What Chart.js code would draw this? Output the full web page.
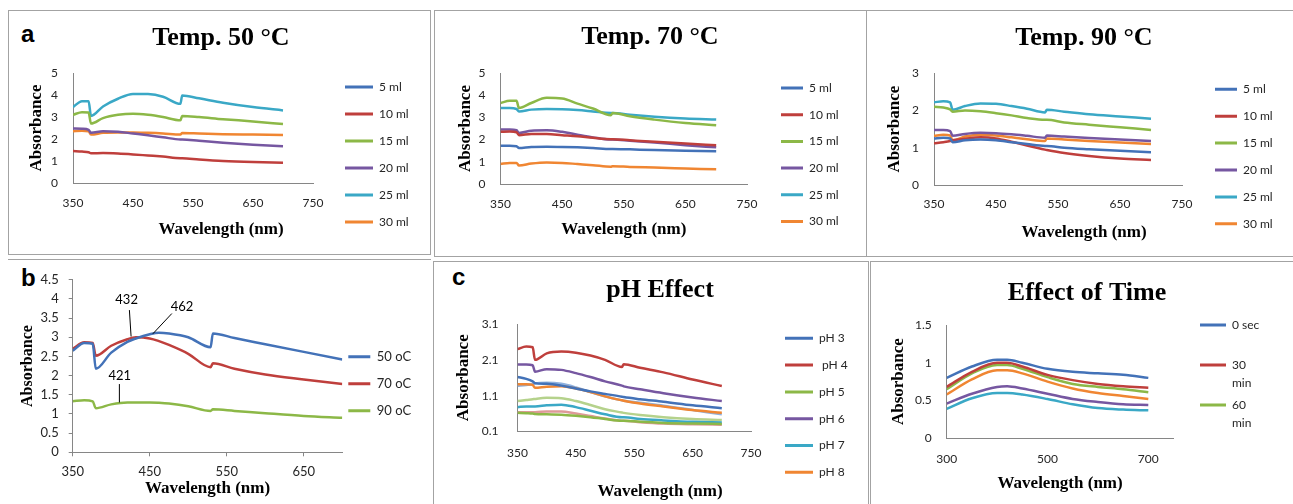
<!DOCTYPE html>
<html lang="en">
<head>
<meta charset="utf-8">
<title>Absorbance spectra</title>
<script src="https://cdn.jsdelivr.net/npm/chart.js"></script>
<style>
  html, body { margin: 0; padding: 0; background: #fff; overflow: hidden; }
  #fig { position: relative; width: 1293px; height: 504px; overflow: hidden; }
  .moldura { position: absolute; border: 1.5px solid #a3a3a3; box-sizing: border-box; }
  .letra { position: absolute; font: bold 24px 'Liberation Sans', Arial, sans-serif; line-height: 24px; color: #000; }
  canvas { position: absolute; }
</style>
</head>
<body>
<div id="fig">
  <div class="moldura" style="left:8px;top:10px;width:423px;height:245px"></div>
  <div class="moldura" style="left:434px;top:10px;width:433px;height:247px"></div>
  <div class="moldura" style="left:866px;top:10px;width:440px;height:247px"></div>
  <div class="moldura" style="left:8px;top:259px;width:423px;height:260px;border-left:none;border-right:none;border-bottom:none"></div>
  <div class="moldura" style="left:433px;top:261px;width:436px;height:260px"></div>
  <div class="moldura" style="left:870px;top:261px;width:440px;height:260px"></div>

  <div class="letra" style="left:21px;top:22px">a</div>
  <div class="letra" style="left:21px;top:266px">b</div>
  <div class="letra" style="left:452px;top:265px">c</div>

  <canvas id="g50"></canvas>
  <canvas id="g70"></canvas>
  <canvas id="g90"></canvas>
  <canvas id="gTemp"></canvas>
  <canvas id="gPH"></canvas>
  <canvas id="gTempo"></canvas>
</div>

<script>
// ===== DADOS =====

// grade de comprimentos de onda (nm) dos espectros de temperatura e pH
const ondas = [350, 365, 376, 380, 400, 425, 450, 475, 500, 529, 532, 560, 600, 650, 700];
const nomesMl = ['5 ml', '10 ml', '15 ml', '20 ml', '25 ml', '30 ml'];

// a) Temp. 50 °C  (a curva de 5 ml não aparece no original)
const t50_5ml  = [];
const t50_10ml = [1.45, 1.43, 1.40, 1.35, 1.36, 1.34, 1.30, 1.25, 1.20, 1.13, 1.13, 1.07, 1.00, 0.95, 0.92];
const t50_15ml = [3.10, 3.22, 3.20, 2.70, 2.95, 3.10, 3.15, 3.10, 3.00, 2.85, 3.05, 3.00, 2.90, 2.80, 2.68];
const t50_20ml = [2.48, 2.47, 2.42, 2.28, 2.35, 2.33, 2.25, 2.17, 2.08, 1.98, 1.98, 1.92, 1.83, 1.74, 1.67];
const t50_25ml = [3.45, 3.72, 3.72, 3.05, 3.48, 3.83, 4.05, 4.04, 3.92, 3.60, 3.98, 3.85, 3.65, 3.45, 3.30];
const t50_30ml = [2.35, 2.37, 2.35, 2.20, 2.28, 2.30, 2.30, 2.28, 2.25, 2.20, 2.27, 2.25, 2.22, 2.20, 2.18];

// Temp. 70 °C
const t70_5ml  = [1.72, 1.72, 1.70, 1.62, 1.67, 1.68, 1.67, 1.65, 1.62, 1.58, 1.58, 1.56, 1.53, 1.50, 1.47];
const t70_10ml = [2.35, 2.36, 2.33, 2.20, 2.25, 2.25, 2.20, 2.15, 2.08, 2.02, 2.02, 1.97, 1.90, 1.82, 1.75];
const t70_15ml = [3.65, 3.75, 3.75, 3.42, 3.65, 3.88, 3.85, 3.62, 3.40, 3.10, 3.20, 3.05, 2.90, 2.75, 2.65];
const t70_20ml = [2.45, 2.45, 2.42, 2.30, 2.40, 2.42, 2.35, 2.22, 2.10, 2.00, 2.00, 1.95, 1.87, 1.75, 1.65];
const t70_25ml = [3.42, 3.42, 3.38, 3.27, 3.35, 3.38, 3.37, 3.33, 3.27, 3.20, 3.20, 3.12, 3.03, 2.95, 2.90];
const t70_30ml = [0.90, 0.95, 0.95, 0.83, 0.92, 0.97, 0.95, 0.90, 0.85, 0.78, 0.80, 0.77, 0.74, 0.70, 0.66];

// Temp. 90 °C
const t90_5ml  = [1.25, 1.27, 1.25, 1.15, 1.20, 1.22, 1.20, 1.15, 1.10, 1.05, 1.05, 1.00, 0.96, 0.92, 0.88];
const t90_10ml = [1.12, 1.15, 1.18, 1.20, 1.24, 1.28, 1.25, 1.16, 1.06, 0.95, 0.94, 0.86, 0.78, 0.71, 0.67];
const t90_15ml = [2.10, 2.08, 2.03, 1.97, 2.00, 1.98, 1.93, 1.87, 1.80, 1.75, 1.75, 1.68, 1.62, 1.55, 1.48];
const t90_20ml = [1.48, 1.48, 1.45, 1.32, 1.37, 1.40, 1.39, 1.36, 1.32, 1.27, 1.33, 1.30, 1.26, 1.22, 1.18];
const t90_25ml = [2.22, 2.25, 2.22, 2.02, 2.12, 2.19, 2.18, 2.12, 2.05, 1.95, 2.02, 1.97, 1.90, 1.84, 1.78];
const t90_30ml = [1.32, 1.35, 1.33, 1.20, 1.30, 1.35, 1.33, 1.28, 1.23, 1.18, 1.25, 1.22, 1.18, 1.14, 1.10];

// b) comparação de temperaturas
const ondasB = [350, 365, 376, 380, 400, 421, 432, 450, 462, 475, 500, 529, 532, 560, 600, 650, 700];
const nomesB = ['50 oC', '70 oC', '90 oC'];
const b50 = [2.65, 2.85, 2.83, 2.18, 2.60, 2.88, 2.97, 3.08, 3.12, 3.10, 3.00, 2.74, 3.10, 2.98, 2.82, 2.62, 2.42];
const b70 = [2.70, 2.87, 2.85, 2.52, 2.78, 2.95, 3.00, 2.97, 2.90, 2.80, 2.57, 2.22, 2.32, 2.18, 2.03, 1.90, 1.78];
const b90 = [1.33, 1.36, 1.33, 1.15, 1.25, 1.30, 1.30, 1.30, 1.29, 1.27, 1.20, 1.08, 1.12, 1.08, 1.02, 0.95, 0.90];
// picos marcados: texto, posição do texto e traço (x em nm, y em absorbância)
const picoTexto = ['432', '462', '421'];
const picoTextoX = [420, 492, 411];
const picoTextoY = [3.97, 3.80, 1.99];
const picoDe  = [[423.6, 3.71], [478.7, 3.62], [410.6, 1.78]];
const picoAte = [[425.8, 3.02], [454.0, 3.09], [410.6, 1.30]];

// c) pH Effect (as três últimas séries ficam fora da legenda, como no original)
const nomesPH = ['pH 3', ' pH 4', 'pH 5', 'pH 6', 'pH 7', 'pH 8', 'série 7', 'série 8', 'série 9'];
const ph3 = [1.62, 1.57, 1.50, 1.45, 1.43, 1.38, 1.30, 1.22, 1.15, 1.07, 1.06, 1.00, 0.93, 0.83, 0.75];
const ph4 = [2.40, 2.47, 2.45, 2.10, 2.28, 2.33, 2.30, 2.22, 2.10, 1.90, 1.98, 1.88, 1.75, 1.55, 1.37];
const ph5 = [0.62, 0.61, 0.60, 0.59, 0.58, 0.57, 0.54, 0.50, 0.45, 0.40, 0.40, 0.37, 0.34, 0.32, 0.31];
const ph6 = [1.97, 1.97, 1.95, 1.77, 1.84, 1.82, 1.73, 1.62, 1.50, 1.38, 1.36, 1.28, 1.17, 1.05, 0.95];
const ph7 = [0.78, 0.80, 0.80, 0.80, 0.83, 0.85, 0.78, 0.68, 0.58, 0.50, 0.50, 0.45, 0.41, 0.37, 0.35];
const ph8 = [1.42, 1.42, 1.40, 1.32, 1.35, 1.36, 1.30, 1.20, 1.08, 0.97, 0.96, 0.88, 0.80, 0.70, 0.62];
const phS7 = [1.38, 1.40, 1.42, 1.44, 1.46, 1.43, 1.33, 1.20, 1.08, 0.97, 0.96, 0.90, 0.82, 0.70, 0.58];
const phS8 = [0.64, 0.64, 0.64, 0.64, 0.66, 0.66, 0.60, 0.53, 0.46, 0.40, 0.40, 0.36, 0.32, 0.30, 0.29];
const phS9 = [0.95, 0.98, 1.00, 1.01, 1.04, 1.03, 0.95, 0.84, 0.72, 0.63, 0.62, 0.56, 0.50, 0.45, 0.42];

// Effect of Time (só as três primeiras séries cabem na legenda)
const ondasT = [300, 350, 400, 420, 450, 500, 550, 600, 650, 700];
const nomesT = ['0 sec', '30 min', '60 min', 'série 4', 'série 5', 'série 6'];
const tempo0s  = [0.80, 0.95, 1.04, 1.04, 1.00, 0.92, 0.88, 0.86, 0.84, 0.80];
const tempo30m = [0.68, 0.88, 1.00, 1.00, 0.95, 0.84, 0.77, 0.72, 0.69, 0.67];
const tempo60m = [0.65, 0.86, 0.97, 0.97, 0.92, 0.81, 0.72, 0.68, 0.65, 0.61];
const tempoS4  = [0.46, 0.59, 0.68, 0.69, 0.66, 0.59, 0.52, 0.48, 0.45, 0.44];
const tempoS5  = [0.39, 0.53, 0.60, 0.60, 0.58, 0.52, 0.45, 0.40, 0.38, 0.37];
const tempoS6  = [0.58, 0.78, 0.90, 0.90, 0.86, 0.75, 0.66, 0.60, 0.56, 0.52];

// ticks dos eixos
const ticksX350 = [350, 450, 550, 650, 750];
const ticksXb   = [350, 450, 550, 650];
const ticksXt   = [300, 500, 700];
const ticksY5   = [0, 1, 2, 3, 4, 5];
const ticksY3   = [0, 1, 2, 3];
const ticksYb   = [0, 0.5, 1, 1.5, 2, 2.5, 3, 3.5, 4, 4.5];
const ticksYph  = [0.1, 1.1, 2.1, 3.1];
const ticksYt   = [0, 0.5, 1, 1.5];

// cores padrão do Excel
const cores = ['#4372B8', '#BF3F3C', '#8CB847', '#7657A1', '#3AA8C6', '#F08632', '#8FB1DE', '#DE9A98', '#B5D28C'];


/* =============================================
   MONTAGEM DOS GRÁFICOS
   ============================================= */
const serif = "'Liberation Serif', 'Times New Roman', serif";
const sans  = "Lato, 'Open Sans', sans-serif";
const cinza = '#868686';
Chart.defaults.font.family = sans;
Chart.defaults.color = '#262626';

// mede o texto da legenda para fixar a largura da caixa
const medidor = document.createElement('canvas').getContext('2d');

// rótulos dos picos no gráfico b
const picos = {
  id: 'picos',
  afterDatasetsDraw(chart) {
    const { ctx, scales: { x, y } } = chart;
    ctx.save();
    ctx.strokeStyle = '#000';
    ctx.fillStyle = '#000';
    ctx.lineWidth = 1;
    ctx.font = '13px ' + sans;
    ctx.textAlign = 'center';
    ctx.textBaseline = 'middle';
    picoTexto.forEach((txt, i) => {
      ctx.fillText(txt, x.getPixelForValue(picoTextoX[i]), y.getPixelForValue(picoTextoY[i]));
      ctx.beginPath();
      ctx.moveTo(x.getPixelForValue(picoDe[i][0]), y.getPixelForValue(picoDe[i][1]));
      ctx.lineTo(x.getPixelForValue(picoAte[i][0]), y.getPixelForValue(picoAte[i][1]));
      ctx.stroke();
    });
    ctx.restore();
  }
};

function montarGrafico(cfg) {
  const canvas = document.getElementById(cfg.id);
  const [bx, by, W, H] = cfg.caixa;
  canvas.width = W;
  canvas.height = H;
  canvas.style.left = bx + 'px';
  canvas.style.top = by + 'px';

  // área do gráfico relativa ao canvas
  const L = cfg.area[0] - bx, T = cfg.area[1] - by, R = cfg.area[2] - bx, B = cfg.area[3] - by;
  const fTick = cfg.fonteTick || 12, fLeg = cfg.fonteLeg || 12, fEixoY = cfg.fonteEixoY || 17, fEixoX = 17;
  const marca = cfg.marcas ? 4 : 0;
  const textos = cfg.leg.textos;

  // legenda: espaço até a área e largura justa para o texto
  const folga = cfg.leg.folga;
  const iniLeg = cfg.leg.x - bx - folga;
  const espaco = Math.max(0, iniLeg - R);
  medidor.font = fLeg + 'px ' + sans;
  const maiorTexto = Math.max(...textos.flat().map(t => medidor.measureText(t).width));
  const largLeg = folga + cfg.leg.caixa + fLeg / 2 + maiorTexto + 6;
  const fimLeg = iniLeg + largLeg;
  const padDir = W - fimLeg;

  // eixo Y: a borda esquerda da caixa do eixo define o centro do título
  const tituloEsq = cfg.posTituloY - bx - fEixoY * 0.6;
  const esqY = cfg.centro ? Math.max(0, 2 * (cfg.centro - bx) - fimLeg) : tituloEsq;
  const largY = L - esqY;

  const padTopo = cfg.titulo ? 0 : T;
  let titulo = { display: false };
  if (cfg.titulo) {
    const pt = cfg.posTitulo - by - 15.6;
    titulo = { display: true, text: cfg.titulo, color: '#000',
      font: { family: serif, size: 26, weight: 'bold' },
      padding: { top: pt, bottom: T - pt - 31.2 } };
  }

  // eixo X: título no próprio eixo ou como subtítulo embaixo
  const padTickX = cfg.posRotX - by - B - marca - fTick * 0.6;
  const fonteX = { family: serif, size: fEixoX, weight: 'bold' };
  let altX, tituloX = { display: false }, subtitulo = { display: false };
  if (cfg.modoX === 'eixo') {
    altX = H - B;
    tituloX = { display: true, text: 'Wavelength (nm)', color: '#000', font: fonteX,
      padding: { top: 0, bottom: H - (cfg.posTituloX - by) - fEixoX * 0.6 } };
  } else {
    altX = cfg.altX;
    const topoSub = B + altX;
    const pt = cfg.posTituloX - by - topoSub - fEixoX * 0.6;
    subtitulo = { display: true, position: 'bottom', text: 'Wavelength (nm)', color: '#000', font: fonteX,
      padding: { top: pt, bottom: H - topoSub - pt - fEixoX * 1.2 } };
  }

  const grade = cfg.marcas
    ? { display: true, drawOnChartArea: false, drawTicks: true, tickLength: 4, color: cinza }
    : { display: false, drawTicks: false };
  const borda = { display: true, color: cinza, width: 1 };

  // legenda começa na altura do primeiro item (título vazio serve de espaçador)
  const topoItem = cfg.leg.y - by - fLeg / 2;
  const altTitLeg = topoItem - padTopo - folga;

  const scales = {
    x: {
      type: 'linear', min: cfg.xMin, max: cfg.xMax,
      afterBuildTicks: s => { s.ticks = cfg.ticksX.map(v => ({ value: v })); },
      afterFit: s => { s.height = altX; },
      ticks: { padding: padTickX, autoSkip: false, maxRotation: 0, font: { size: fTick }, callback: v => String(v) },
      grid: grade, border: borda, title: tituloX
    },
    y: {
      type: 'linear', min: cfg.yMin, max: cfg.yMax,
      afterBuildTicks: s => { s.ticks = cfg.ticksY.map(v => ({ value: v })); },
      afterFit: s => { s.width = largY; },
      ticks: { padding: cfg.padTickY, autoSkip: false, font: { size: fTick }, callback: v => String(v) },
      grid: grade, border: borda,
      title: { display: true, text: 'Absorbance', color: '#000',
        font: { family: serif, size: fEixoY, weight: 'bold' }, padding: { top: tituloEsq - esqY, bottom: 0 } }
    }
  };
  if (espaco > 0) {
    scales.folga = {
      type: 'linear', position: 'right',
      grid: { display: false, drawTicks: false }, border: { display: false }, ticks: { display: false },
      afterFit: s => { s.width = espaco; }
    };
  }

  const datasets = cfg.series.map((ys, i) => ({
    label: cfg.nomes[i],
    data: ys.map((v, k) => ({ x: cfg.xs[k], y: v })),
    borderColor: cores[i],
    backgroundColor: cores[i],
    borderWidth: 2.5,
    pointRadius: 0,
    cubicInterpolationMode: 'monotone',
    xAxisID: 'x',
    yAxisID: 'y'
  }));

  new Chart(canvas, {
    type: 'line',
    data: { datasets },
    plugins: cfg.plugins || [],
    options: {
      responsive: false,
      animation: false,
      devicePixelRatio: 1,
      events: [],
      layout: { padding: { left: esqY, right: padDir, top: padTopo, bottom: 0 } },
      scales,
      plugins: {
        tooltip: { enabled: false },
        title: titulo,
        subtitle: subtitulo,
        legend: {
          position: 'right',
          align: 'start',
          maxWidth: largLeg,
          title: { display: true, text: '', font: { size: 10, lineHeight: '10px' },
            padding: { top: altTitLeg - 10, bottom: 0 } },
          labels: {
            boxWidth: cfg.leg.caixa,
            boxHeight: 3,
            padding: folga,
            color: '#262626',
            font: { size: fLeg, lineHeight: cfg.leg.entreLinhas + 'px' },
            generateLabels: chart => Chart.defaults.plugins.legend.labels.generateLabels(chart)
              .slice(0, textos.length)
              .map((it, i) => Object.assign(it, { text: textos[i], lineWidth: 0, fillStyle: it.strokeStyle }))
          }
        }
      }
    }
  });
}

const legMl = nomesMl.map(n => [n]);

// a) Temp. 50 °C
montarGrafico({
  id: 'g50', caixa: [8, 10, 423, 244], area: [73, 73, 313, 183],
  titulo: 'Temp. 50 °C', posTitulo: 38, centro: 221,
  posTituloY: 37, padTickY: 15, posRotX: 203, posTituloX: 230, modoX: 'sub', altX: 30,
  xs: ondas, xMin: 350, xMax: 750, ticksX: ticksX350, yMin: 0, yMax: 5, ticksY: ticksY5,
  series: [t50_5ml, t50_10ml, t50_15ml, t50_20ml, t50_25ml, t50_30ml], nomes: nomesMl,
  leg: { x: 345, y: 87, folga: 6, entreLinhas: 21, caixa: 28, textos: legMl }
});

// Temp. 70 °C
montarGrafico({
  id: 'g70', caixa: [434, 10, 432, 246], area: [500.5, 73, 747, 184],
  titulo: 'Temp. 70 °C', posTitulo: 37, centro: 650,
  posTituloY: 466, padTickY: 15, posRotX: 204, posTituloX: 230, modoX: 'eixo',
  xs: ondas, xMin: 350, xMax: 750, ticksX: ticksX350, yMin: 0, yMax: 5, ticksY: ticksY5,
  series: [t70_5ml, t70_10ml, t70_15ml, t70_20ml, t70_25ml, t70_30ml], nomes: nomesMl,
  leg: { x: 781, y: 88, folga: 6, entreLinhas: 20.7, caixa: 22, textos: legMl }
});

// Temp. 90 °C
montarGrafico({
  id: 'g90', caixa: [866, 10, 427, 246], area: [934, 73.3, 1182, 185],
  titulo: 'Temp. 90 °C', posTitulo: 38.3, centro: 1084,
  posTituloY: 895, padTickY: 15, posRotX: 204, posTituloX: 233, modoX: 'sub', altX: 30,
  xs: ondas, xMin: 350, xMax: 750, ticksX: ticksX350, yMin: 0, yMax: 3, ticksY: ticksY3,
  series: [t90_5ml, t90_10ml, t90_15ml, t90_20ml, t90_25ml, t90_30ml], nomes: nomesMl,
  leg: { x: 1215, y: 89.3, folga: 6, entreLinhas: 20.9, caixa: 22, textos: legMl }
});

// b) picos por temperatura
montarGrafico({
  id: 'gTemp', caixa: [0, 262, 430, 242], area: [72.7, 277.7, 342.5, 452.3],
  titulo: null, centro: null, marcas: true, fonteTick: 13, fonteLeg: 13, fonteEixoY: 16,
  posTituloY: 28.3, padTickY: 10, posRotX: 471.7, posTituloX: 488.3, modoX: 'eixo',
  xs: ondasB, xMin: 350, xMax: 700, ticksX: ticksXb, yMin: 0, yMax: 4.5, ticksY: ticksYb,
  series: [b50, b70, b90], nomes: nomesB,
  leg: { x: 348.3, y: 356.7, folga: 6, entreLinhas: 21, caixa: 22, textos: nomesB.map(n => [n]) },
  plugins: [picos]
});

// c) pH Effect
montarGrafico({
  id: 'gPH', caixa: [433, 262, 432, 242], area: [517.5, 324, 751, 431.5],
  titulo: 'pH Effect', posTitulo: 290, centro: 660,
  posTituloY: 463.3, padTickY: 19, posRotX: 453.3, posTituloX: 491.7, modoX: 'sub', altX: 35,
  xs: ondas, xMin: 350, xMax: 750, ticksX: ticksX350, yMin: 0.1, yMax: 3.1, ticksY: ticksYph,
  series: [ph3, ph4, ph5, ph6, ph7, ph8, phS7, phS8, phS9], nomes: nomesPH,
  leg: { x: 785, y: 338.3, folga: 6, entreLinhas: 20.8, caixa: 28, textos: nomesPH.slice(0, 6).map(n => [n]) }
});

// Effect of Time
montarGrafico({
  id: 'gTempo', caixa: [870, 262, 423, 242], area: [946.7, 325, 1173.5, 438.3],
  titulo: 'Effect of Time', posTitulo: 293.3, centro: 1087,
  posTituloY: 898.3, padTickY: 15, posRotX: 459, posTituloX: 483.3, modoX: 'eixo',
  xs: ondasT, xMin: 300, xMax: 750, ticksX: ticksXt, yMin: 0, yMax: 1.5, ticksY: ticksYt,
  series: [tempo0s, tempo30m, tempo60m, tempoS4, tempoS5, tempoS6], nomes: nomesT,
  leg: { x: 1200, y: 325, folga: 4, entreLinhas: 18, caixa: 26, textos: [['0 sec', ''], ['30', 'min'], ['60', 'min']] }
});
</script>
</body>
</html>
